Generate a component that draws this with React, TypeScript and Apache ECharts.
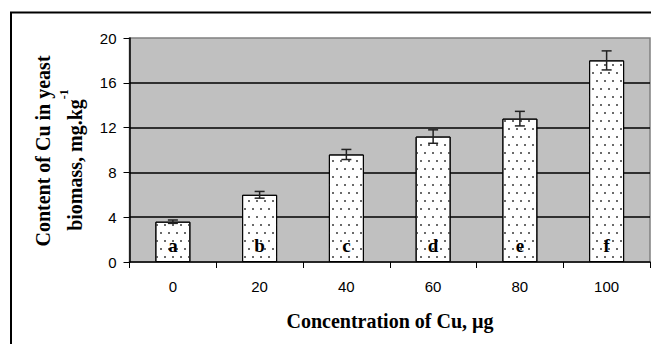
import React, { useEffect, useRef } from "react";
import * as echarts from "echarts";

const categories = ["0", "20", "40", "60", "80", "100"];
const values = [3.6, 6.0, 9.6, 11.2, 12.8, 18.0];
const errors = [0.15, 0.3, 0.45, 0.6, 0.65, 0.85];
const letters = ["a", "b", "c", "d", "e", "f"];
const yTicks = { min: 0, max: 20, interval: 4 };

export default function App() {
  const ref = useRef<HTMLDivElement>(null);
  useEffect(() => {
    if (!ref.current) return;
    const chart = echarts.init(ref.current, null, { renderer: "svg" });
    const serif = "Liberation Serif";
    const sans = "Liberation Sans";
    const titleStyle = {
      fontFamily: serif,
      fontSize: 20,
      fontWeight: "bold",
      fill: "#000",
    };
    chart.setOption({
      animation: false,
      backgroundColor: "#ffffff",
      grid: {
        left: 129.5,
        right: 1,
        top: 38,
        bottom: 82,
        show: true,
        backgroundColor: "#c0c0c0",
        borderColor: "#808080",
        borderWidth: 1.5,
      },
      xAxis: {
        type: "category",
        data: categories,
        boundaryGap: true,
        axisLine: { lineStyle: { color: "#000", width: 1.5 } },
        axisTick: { show: true, length: 6, lineStyle: { color: "#000", width: 1 } },
        axisLabel: { color: "#000", fontSize: 15, fontFamily: sans, margin: 17 },
      },
      yAxis: {
        type: "value",
        min: yTicks.min,
        max: yTicks.max,
        interval: yTicks.interval,
        axisLine: { show: true, lineStyle: { color: "#000", width: 1.5 } },
        axisTick: { show: true, length: 6, lineStyle: { color: "#000", width: 1 } },
        axisLabel: { color: "#000", fontSize: 15, fontFamily: sans, margin: 13 },
        splitLine: {
          show: true,
          showMaxLine: false,
          showMinLine: false,
          lineStyle: { color: "#000", width: 1.5 },
        },
      },
      series: [
        {
          type: "bar",
          data: values,
          barWidth: 35,
          itemStyle: {
            color: "#ffffff",
            borderColor: "#000",
            borderWidth: 1,
            decal: {
              symbol: "rect",
              symbolSize: 1,
              color: "#6a6a6a",
              dashArrayX: [[1.6, 5.4], [0, 3.5, 1.6, 1.9]],
              dashArrayY: [1.6, 5.4],
              rotation: 0,
            },
          },
          label: {
            show: true,
            position: "insideBottom",
            distance: 7,
            formatter: (p: any) => letters[p.dataIndex],
            color: "#000",
            fontSize: 19,
            fontWeight: "bold",
            fontFamily: serif,
          },
          z: 2,
        },
        {
          type: "custom",
          data: values.map((v, i) => [i, v - errors[i], v + errors[i]]),
          encode: { x: 0, y: [1, 2] },
          z: 5,
          renderItem: (params: any, api: any) => {
            const lo = api.coord([api.value(0), api.value(1)]);
            const hi = api.coord([api.value(0), api.value(2)]);
            const hw = 5;
            const st = { stroke: "#222", lineWidth: 1.5 };
            return {
              type: "group",
              children: [
                { type: "line", shape: { x1: lo[0], y1: lo[1], x2: hi[0], y2: hi[1] }, style: st },
                { type: "line", shape: { x1: lo[0] - hw, y1: lo[1], x2: lo[0] + hw, y2: lo[1] }, style: st },
                { type: "line", shape: { x1: hi[0] - hw, y1: hi[1], x2: hi[0] + hw, y2: hi[1] }, style: st },
              ],
            };
          },
        },
      ],
      graphic: [
        {
          type: "rect",
          shape: { x: 11, y: 12.5, width: 700, height: 400 },
          style: { fill: "none", stroke: "#000", lineWidth: 2 },
          z: 10,
        },
        {
          type: "text",
          x: 43,
          y: 151,
          rotation: Math.PI / 2,
          style: {
            ...titleStyle,
            text: "Content of Cu in yeast",
            textAlign: "center",
            textVerticalAlign: "middle",
          },
        },
        {
          type: "text",
          x: 71,
          y: 160,
          rotation: Math.PI / 2,
          style: {
            text: "{n|biomass, mg.kg}{s|-1}",
            textAlign: "center",
            textVerticalAlign: "middle",
            rich: {
              n: { ...titleStyle, lineHeight: 27, verticalAlign: "bottom" },
              s: { fontFamily: serif, fontSize: 12, fontWeight: "bold", fill: "#000", lineHeight: 12, verticalAlign: "top" },
            },
          },
        },
        {
          type: "text",
          x: 390,
          y: 321,
          style: {
            ...titleStyle,
            text: "Concentration of Cu, µg",
            textAlign: "center",
            textVerticalAlign: "middle",
          },
        },
      ],
    });
    return () => chart.dispose();
  }, []);
  return (
    <div
      ref={ref}
      style={{ position: "fixed", left: 0, top: 0, width: 651, height: 344 }}
    />
  );
}
